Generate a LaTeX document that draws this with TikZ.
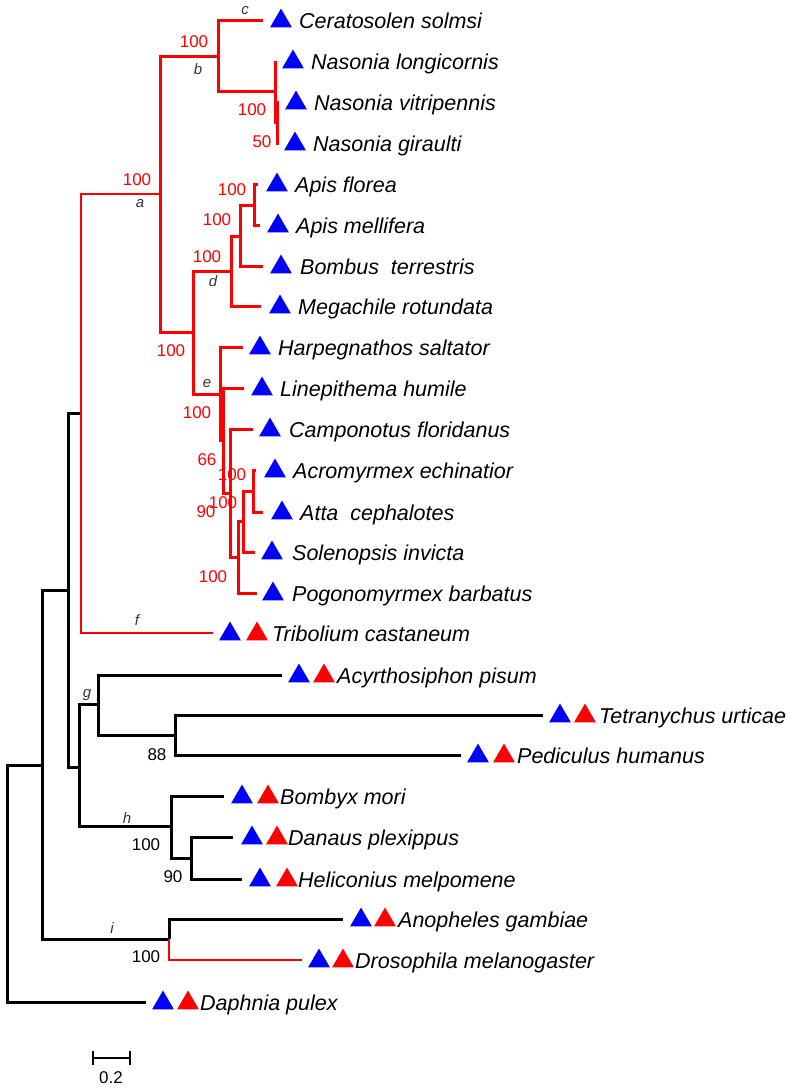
\documentclass[tikz,border=0pt]{standalone}
\usepackage{fontspec}
\setmainfont{Liberation Sans}
\usetikzlibrary{calc}
\usetikzlibrary{shapes.geometric}

\begin{document}
\begin{tikzpicture}[x=1pt, y=-1pt,
		redbr/.style={draw=red, line width=3pt},
		midred/.style={draw=red, line width=2.8pt},
		thinred/.style={draw=red, line width=2.3pt},
		blkbr/.style={draw=black, line width=3pt},
		sp/.style={anchor=base west, inner sep=0pt, font=\fontsize{21.5}{25}\selectfont\itshape},
		bsr/.style={text=red, inner sep=0pt, font=\fontsize{17}{20}\selectfont},
		bsk/.style={text=black, inner sep=0pt, font=\fontsize{17}{20}\selectfont},
		clade/.style={text=black!80, inner sep=0pt, font=\fontsize{15}{18}\selectfont\itshape},
		bt/.style={regular polygon, regular polygon sides=3, minimum size=25pt, inner sep=0pt, fill=blue},
		rt/.style={regular polygon, regular polygon sides=3, minimum size=25pt, inner sep=0pt, fill=red}]
				\useasboundingbox (0,0) rectangle (797,1090);
				
				% Internal nodes
				\coordinate (nR) at (7,883);
				\coordinate (n1) at (42,765);
				\coordinate (n2) at (68,590);
				\coordinate (n3) at (79,767);
				\coordinate (ni) at (169,939);
				\coordinate (nins) at (81,413);
				\coordinate (na) at (160,194);
				\coordinate (nb) at (218,56);
				\coordinate (nnas) at (275,91);
				\coordinate (nnas2) at (277,122);
				\coordinate (nhym) at (193,332);
				\coordinate (nd) at (231,271);
				\coordinate (nbee) at (240,236);
				\coordinate (napis) at (254,205);
				\coordinate (ne) at (220,394);
				\coordinate (nant1) at (223,440);
				\coordinate (nant2) at (230,493);
				\coordinate (nant3) at (238,557);
				\coordinate (nant4) at (243,521);
				\coordinate (natt) at (253,491);
				\coordinate (ng) at (98,704);
				\coordinate (n88) at (175,735);
				\coordinate (nh) at (171,826);
				\coordinate (n90) at (191,858);
				
				% Leaf ends
				\coordinate (eCer) at (263,20);
				\coordinate (eNlo) at (275,61);
				\coordinate (eNvi) at (279,102);
				\coordinate (eNgi) at (279,143);
				\coordinate (eApf) at (258,184);
				\coordinate (eApm) at (260,225);
				\coordinate (eBot) at (263,266);
				\coordinate (eMeg) at (261,306);
				\coordinate (eHar) at (243,347);
				\coordinate (eLin) at (244,388);
				\coordinate (eCam) at (253,429);
				\coordinate (eAcr) at (256,470);
				\coordinate (eAtt) at (263,512);
				\coordinate (eSol) at (255,552);
				\coordinate (ePog) at (257,593);
				\coordinate (eTri) at (213,633);
				\coordinate (eAcy) at (282,675);
				\coordinate (eTet) at (543,715);
				\coordinate (ePed) at (461,755);
				\coordinate (eBom) at (224,796);
				\coordinate (eDan) at (233,837);
				\coordinate (eHel) at (242,879);
				\coordinate (eAno) at (343,919);
				\coordinate (eDro) at (302,960);
				\coordinate (eDap) at (146,1002);
				
				% Black branches
				\draw[blkbr] (nR) |- (n1);
				\draw[blkbr] (nR) |- (eDap);
				\draw[blkbr] (n1) |- (n2);
				\draw[blkbr] (n1) |- (ni);
				\draw[blkbr] (ni) |- (eAno);
				\draw[blkbr] (n2) |- (nins);
				\draw[blkbr] (n2) |- (n3);
				\draw[blkbr] (n3) |- (ng);
				\draw[blkbr] (n3) |- (nh);
				\draw[blkbr] (ng) |- (eAcy);
				\draw[blkbr] (ng) |- (n88);
				\draw[blkbr] (n88) |- (eTet);
				\draw[blkbr] (n88) |- (ePed);
				\draw[blkbr] (nh) |- (eBom);
				\draw[blkbr] (nh) |- (n90);
				\draw[blkbr] (n90) |- (eDan);
				\draw[blkbr] (n90) |- (eHel);
				
				% Red branches
				\draw[thinred] (ni) |- (eDro);
				\draw[midred] (nins) |- (eTri);
				\draw[midred] (nins) |- (na);
				\draw[redbr] (na) |- (nb);
				\draw[redbr] (na) |- (nhym);
				\draw[redbr] (nb) |- (eCer);
				\draw[redbr] (nb) |- (nnas);
				\draw[redbr] (nnas) |- (eNlo);
				\draw[redbr] (nnas) |- (nnas2);
				\draw[redbr] (nnas2) |- (eNvi);
				\draw[redbr] (nnas2) |- (eNgi);
				\draw[redbr] (nhym) |- (nd);
				\draw[redbr] (nhym) |- (ne);
				\draw[redbr] (nd) |- (nbee);
				\draw[redbr] (nd) |- (eMeg);
				\draw[redbr] (nbee) |- (napis);
				\draw[redbr] (nbee) |- (eBot);
				\draw[redbr] (napis) |- (eApf);
				\draw[redbr] (napis) |- (eApm);
				\draw[redbr] (ne) |- (eHar);
				\draw[redbr] (ne) |- (nant1);
				\draw[redbr] (nant1) |- (eLin);
				\draw[redbr] (nant1) |- (nant2);
				\draw[redbr] (nant2) |- (eCam);
				\draw[redbr] (nant2) |- (nant3);
				\draw[redbr] (nant3) |- (nant4);
				\draw[redbr] (nant3) |- (ePog);
				\draw[redbr] (nant4) |- (natt);
				\draw[redbr] (nant4) |- (eSol);
				\draw[redbr] (natt) |- (eAcr);
				\draw[redbr] (natt) |- (eAtt);
				
				% Hymenoptera leaves
				\node[bt] (bCer) at (281,21) {};
				\node[sp] (tCer) at (299,28) {Ceratosolen solmsi};
				\node[bt] (bNlo) at (293,62) {};
				\node[sp] (tNlo) at (311,69) {Nasonia longicornis};
				\node[bt] (bNvi) at (296,103) {};
				\node[sp] (tNvi) at (314,110) {Nasonia vitripennis};
				\node[bt] (bNgi) at (295,144) {};
				\node[sp] (tNgi) at (313,151) {Nasonia giraulti};
				\node[bt] (bApf) at (277,185) {};
				\node[sp] (tApf) at (295,192) {Apis florea};
				\node[bt] (bApm) at (278,226) {};
				\node[sp] (tApm) at (296,233) {Apis mellifera};
				\node[bt] (bBot) at (281,267) {};
				\node[sp] (tBot) at (300,274) {Bombus~~terrestris};
				\node[bt] (bMeg) at (280,307) {};
				\node[sp] (tMeg) at (298,314) {Megachile rotundata};
				\node[bt] (bHar) at (260,348) {};
				\node[sp] (tHar) at (278,355) {Harpegnathos saltator};
				\node[bt] (bLin) at (262,389) {};
				\node[sp] (tLin) at (280,396) {Linepithema humile};
				\node[bt] (bCam) at (270,430) {};
				\node[sp] (tCam) at (289,437) {Camponotus floridanus};
				\node[bt] (bAcr) at (275,471) {};
				\node[sp] (tAcr) at (293,478) {Acromyrmex echinatior};
				\node[bt] (bAtt) at (282,513) {};
				\node[sp] (tAtt) at (300,520) {Atta~~cephalotes};
				\node[bt] (bSol) at (272,553) {};
				\node[sp] (tSol) at (292,560) {Solenopsis invicta};
				\node[bt] (bPog) at (273,594) {};
				\node[sp] (tPog) at (292,601) {Pogonomyrmex barbatus};
				
				% Other leaves
				\node[bt] (bTri) at (230,634) {};
				\node[rt] (rTri) at (257,634) {};
				\node[sp] (tTri) at (272,641) {Tribolium castaneum};
				\node[bt] (bAcy) at (299,676) {};
				\node[rt] (rAcy) at (324,676) {};
				\node[sp] (tAcy) at (337,683) {Acyrthosiphon pisum};
				\node[bt] (bTet) at (560,716) {};
				\node[rt] (rTet) at (585,716) {};
				\node[sp] (tTet) at (599,723) {Tetranychus urticae};
				\node[bt] (bPed) at (478,756) {};
				\node[rt] (rPed) at (504,756) {};
				\node[sp] (tPed) at (517,763) {Pediculus humanus};
				\node[bt] (bBom) at (242,797) {};
				\node[rt] (rBom) at (268,797) {};
				\node[sp] (tBom) at (280,804) {Bombyx mori};
				\node[bt] (bDan) at (252,838) {};
				\node[rt] (rDan) at (277,838) {};
				\node[sp] (tDan) at (288,845) {Danaus plexippus};
				\node[bt] (bHel) at (260,880) {};
				\node[rt] (rHel) at (287,880) {};
				\node[sp] (tHel) at (298,887) {Heliconius melpomene};
				\node[bt] (bAno) at (361,920) {};
				\node[rt] (rAno) at (385,920) {};
				\node[sp] (tAno) at (398,927) {Anopheles gambiae};
				\node[bt] (bDro) at (319,961) {};
				\node[rt] (rDro) at (343,961) {};
				\node[sp] (tDro) at (355,968) {Drosophila melanogaster};
				\node[bt] (bDap) at (163,1003) {};
				\node[rt] (rDap) at (188,1003) {};
				\node[sp] (tDap) at (200,1010) {Daphnia pulex};
				
				% Support values
				\node[bsr] (sb) at (194,42) {100};
				\node[bsr] (sa) at (137,180) {100};
				\node[bsr] (snas) at (252,110) {100};
				\node[bsr] (snas2) at (262,142) {50};
				\node[bsr] (sapis) at (232,190) {100};
				\node[bsr] (sbee) at (217,220) {100};
				\node[bsr] (sd) at (207,257) {100};
				\node[bsr] (shym) at (171,351) {100};
				\node[bsr] (se) at (197,413) {100};
				\node[bsr] (sant1) at (207,460) {66};
				\node[bsr] (satt) at (232,475) {100};
				\node[bsr] (sant2) at (223,503) {100};
				\node[bsr] (sant4) at (206,512) {90};
				\node[bsr] (sant3) at (213,577) {100};
				\node[bsk] (s88) at (157,755) {88};
				\node[bsk] (sh) at (146,845) {100};
				\node[bsk] (s90) at (173,877) {90};
				\node[bsk] (si) at (146,957) {100};
				
				% Clade letters
				\node[clade] (la) at (140,204) {a};
				\node[clade] (lb) at (198,69) {b};
				\node[clade] (lc) at (245,11) {c};
				\node[clade] (ld) at (213,281) {d};
				\node[clade] (le) at (207,384) {e};
				\node[clade] (lf) at (137,620) {f};
				\node[clade] (lg) at (87,695) {g};
				\node[clade] (lh) at (127,818) {h};
				\node[clade] (li) at (112,928) {i};
				
				% Scale bar
				\coordinate (sbl) at (93,1058);
				\coordinate (sbr) at (130,1058);
				\draw[line width=2pt] (sbl) -- (sbr);
				\draw[line width=2pt] ($(sbl)+(0,-7)$) -- ($(sbl)+(0,7)$);
				\draw[line width=2pt] ($(sbr)+(0,-7)$) -- ($(sbr)+(0,7)$);
				\node[bsk] (sbt) at (111,1078) {0.2};
			\end{tikzpicture}
\end{document}
